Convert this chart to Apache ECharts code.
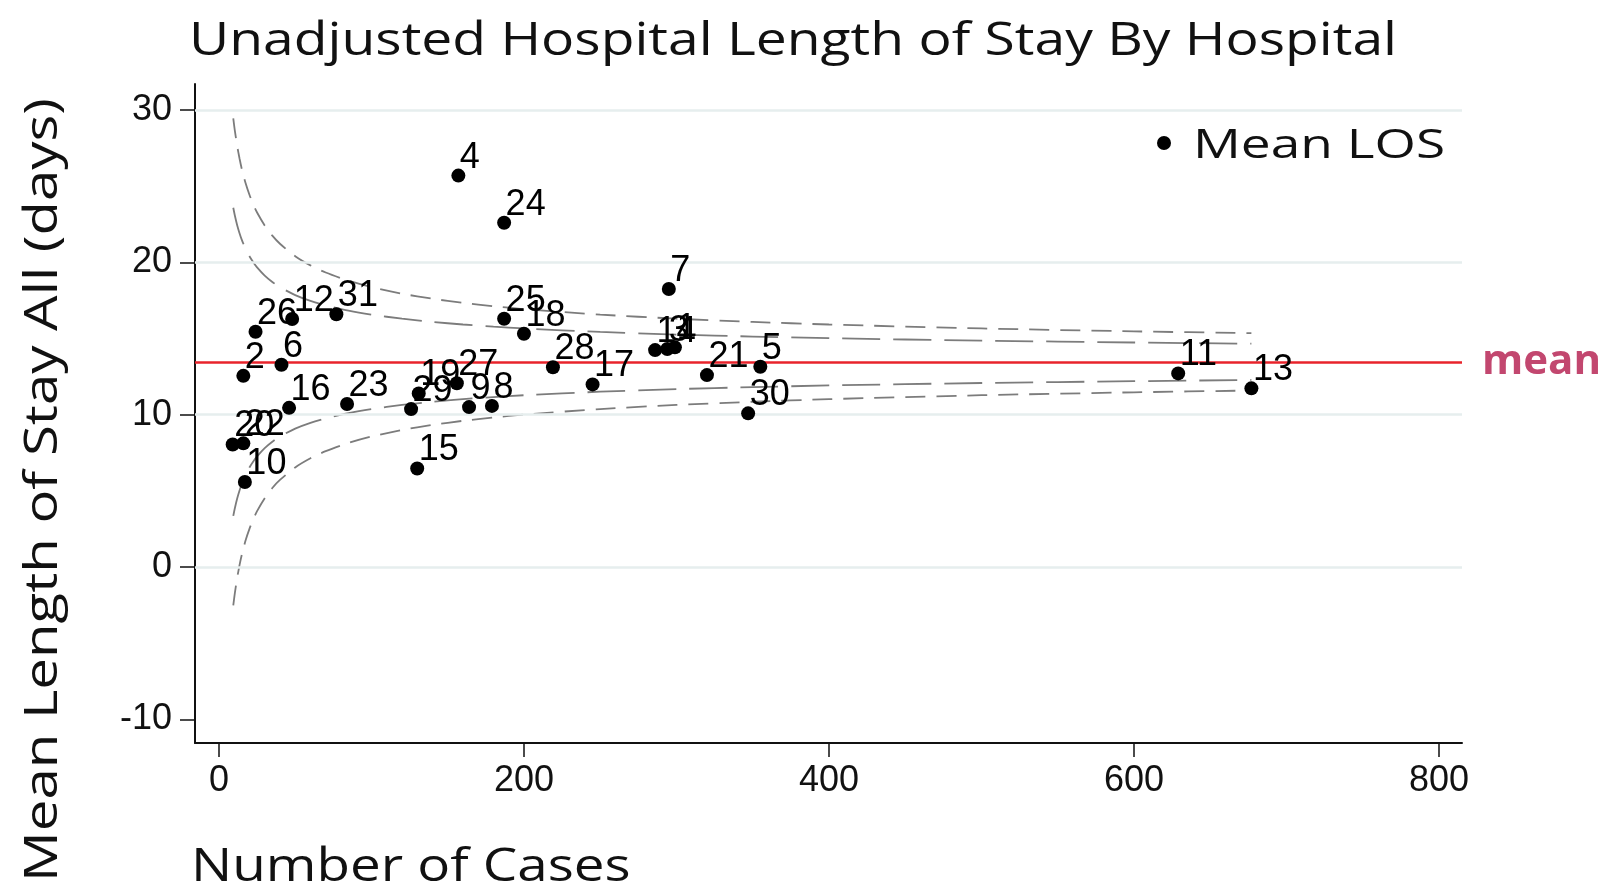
<!DOCTYPE html>
<html>
<head>
<meta charset="utf-8">
<script src="https://cdn.jsdelivr.net/npm/echarts@6/dist/echarts.min.js"></script>
<style>
html,body{margin:0;padding:0;background:#fff;}
#chart{width:1604px;height:888px;}
</style>
</head>
<body>
<div id="chart"></div>
<script>
// ---- data ----
const hospitalIds = ['1','2','3','4','5','6','7','8','9','10','11','12','13','14','15','16','17','18','19','20','21','22','23','24','25','26','27','28','29','30','31'];
const numCases   = [299, 16, 294, 157, 355, 41, 295, 179, 164, 17, 629, 48, 677, 286, 130, 46, 245, 200, 131, 9, 320, 16, 84, 187, 187, 24, 156, 219, 126, 347, 77];
const meanLOS    = [14.42, 12.55, 14.31, 25.69, 13.15, 13.28, 18.25, 10.58, 10.50, 5.59, 12.71, 16.28, 11.73, 14.24, 6.47, 10.45, 11.99, 15.31, 11.40, 8.05, 12.60, 8.12, 10.70, 22.60, 16.30, 15.44, 12.06, 13.11, 10.37, 10.09, 16.59];
const overallMean = 13.47;

// funnel control limits
const limitN   = [9.4, 10.5, 12, 13.5, 15, 17.5, 20, 22.5, 25, 30, 35, 40, 50, 60, 70, 85, 100, 120, 140, 160, 180, 200, 250, 300, 350, 400, 500, 600, 677];
const upper998 = [29.45, 28.59, 27.62, 26.81, 26.12, 25.18, 24.43, 23.80, 23.27, 22.42, 21.75, 21.22, 20.40, 19.80, 19.33, 18.79, 18.37, 17.94, 17.61, 17.34, 17.12, 16.93, 16.57, 16.30, 16.09, 15.92, 15.66, 15.47, 15.35];
const upper95  = [23.58, 23.04, 22.42, 21.91, 21.47, 20.88, 20.40, 20.01, 19.67, 19.13, 18.71, 18.37, 17.85, 17.47, 17.18, 16.83, 16.57, 16.30, 16.09, 15.92, 15.78, 15.66, 15.43, 15.26, 15.13, 15.02, 14.86, 14.74, 14.66];
const lower95  = [3.36, 3.90, 4.52, 5.03, 5.47, 6.06, 6.54, 6.93, 7.27, 7.81, 8.23, 8.57, 9.09, 9.47, 9.76, 10.11, 10.37, 10.64, 10.85, 11.02, 11.16, 11.28, 11.51, 11.68, 11.81, 11.92, 12.08, 12.20, 12.28];
const lower998 = [-2.51, -1.65, -0.68, 0.13, 0.82, 1.76, 2.51, 3.14, 3.67, 4.52, 5.19, 5.72, 6.54, 7.14, 7.61, 8.15, 8.57, 9.00, 9.33, 9.60, 9.82, 10.01, 10.37, 10.64, 10.85, 11.02, 11.28, 11.47, 11.59];

const xTicks = [0, 200, 400, 600, 800];
const yTicks = [-10, 0, 10, 20, 30];
const yGrid  = [0, 10, 20, 30];

const titleText = 'Unadjusted Hospital Length of Stay By Hospital';
const xTitle = 'Number of Cases';
const yTitle = 'Mean Length of Stay All (days)';
const legendName = 'Mean LOS';
const meanLabel = 'mean';

// ---- build ----
const pts = hospitalIds.map((id, i) => [numCases[i], meanLOS[i], id]);
const curve = arr => limitN.map((n, i) => [n, arr[i]]);

const chart = echarts.init(document.getElementById('chart'), null, {renderer: 'canvas'});
const TXT = 'Liberation Sans, Arial, sans-serif';
const HEAD = 'Open Sans, sans-serif';

function limitSeries(name, arr, dash) {
  return {
    name: name, type: 'line', data: curve(arr), showSymbol: false, symbol: 'none',
    smooth: 0.25, z: 2, silent: true,
    lineStyle: {color: '#7c7c7c', width: 1.8, type: dash},
    emphasis: {disabled: true}
  };
}

chart.setOption({
  animation: false,
  backgroundColor: '#fff',
  legend: {
    data: [{name: legendName, icon: 'circle'}],
    formatter: () => '',
    left: 1157, top: 136, padding: 0,
    itemWidth: 14, itemHeight: 14,
    itemStyle: {opacity: 1, color: '#000'},
    textStyle: {fontSize: 10, lineHeight: 14, padding: 0}
  },
  grid: {left: 195, top: 84, width: 1267, height: 659, containLabel: false},
  xAxis: {
    type: 'value', min: -15.7, max: 815.1,
    axisLine: {show: true, onZero: false, lineStyle: {color: '#111', width: 2}},
    axisTick: {show: true, length: 14, customValues: xTicks, lineStyle: {color: '#111', width: 1.5}},
    axisLabel: {show: true, customValues: xTicks, margin: 20, fontFamily: TXT, fontSize: 36, color: '#111'},
    splitLine: {show: false}
  },
  yAxis: {
    type: 'value', min: -11.54, max: 31.7,
    axisLine: {show: true, onZero: false, lineStyle: {color: '#111', width: 2}},
    axisTick: {show: true, length: 15, customValues: yTicks, lineStyle: {color: '#111', width: 1.5}},
    axisLabel: {show: true, customValues: yTicks, margin: 23, fontFamily: TXT, fontSize: 36, color: '#111'},
    splitLine: {show: false}
  },
  graphic: [
    {type: 'text', x: 189, y: 42, scaleX: 1.2, silent: true,
     style: {text: titleText, font: '46px ' + HEAD, fill: '#111', textAlign: 'left', textVerticalAlign: 'middle'}},
    {type: 'text', x: 44, y: 490, rotation: Math.PI / 2, scaleX: 1.225, silent: true,
     style: {text: yTitle, font: '46px ' + HEAD, fill: '#111', textAlign: 'center', textVerticalAlign: 'middle'}},
    {type: 'text', x: 191, y: 868, scaleX: 1.19, silent: true,
     style: {text: xTitle, font: '46px ' + HEAD, fill: '#111', textAlign: 'left', textVerticalAlign: 'middle'}},
    {type: 'text', x: 1193, y: 147, scaleX: 1.33, silent: true,
     style: {text: legendName, font: '40px ' + HEAD, fill: '#111', textAlign: 'left', textVerticalAlign: 'middle'}}
  ],
  series: [
    {
      name: 'grid', type: 'line', data: [], z: 1, silent: true,
      markLine: {
        silent: true, symbol: 'none', animation: false,
        label: {show: false},
        lineStyle: {color: '#e6eeee', width: 2.5, type: 'solid'},
        emphasis: {disabled: true},
        data: yGrid.map(v => ({yAxis: v}))
      }
    },
    limitSeries('u998', upper998, [20, 11]),
    limitSeries('u95', upper95, [38, 13]),
    limitSeries('l95', lower95, [38, 13]),
    limitSeries('l998', lower998, [20, 11]),
    {
      name: 'meanline', type: 'line', data: [], z: 3, silent: true,
      markLine: {
        silent: true, symbol: 'none', animation: false,
        lineStyle: {color: '#e8232b', width: 2.5, type: 'solid'},
        label: {show: true, position: 'end', distance: 20, formatter: meanLabel,
                fontFamily: HEAD, fontWeight: 'bold', fontSize: 42, color: '#c2476f'},
        emphasis: {disabled: true},
        data: [{yAxis: overallMean}]
      }
    },
    {
      name: legendName, type: 'scatter', data: pts, z: 5,
      symbol: 'circle', symbolSize: 14,
      itemStyle: {color: '#000', opacity: 1},
      encode: {x: 0, y: 1},
      label: {
        show: true, formatter: p => p.data[2],
        position: [8.5, -11], align: 'left', verticalAlign: 'middle',
        fontFamily: TXT, fontSize: 36, color: '#000', opacity: 1
      },
      emphasis: {disabled: true}
    }
  ]
});
</script>
</body>
</html>
